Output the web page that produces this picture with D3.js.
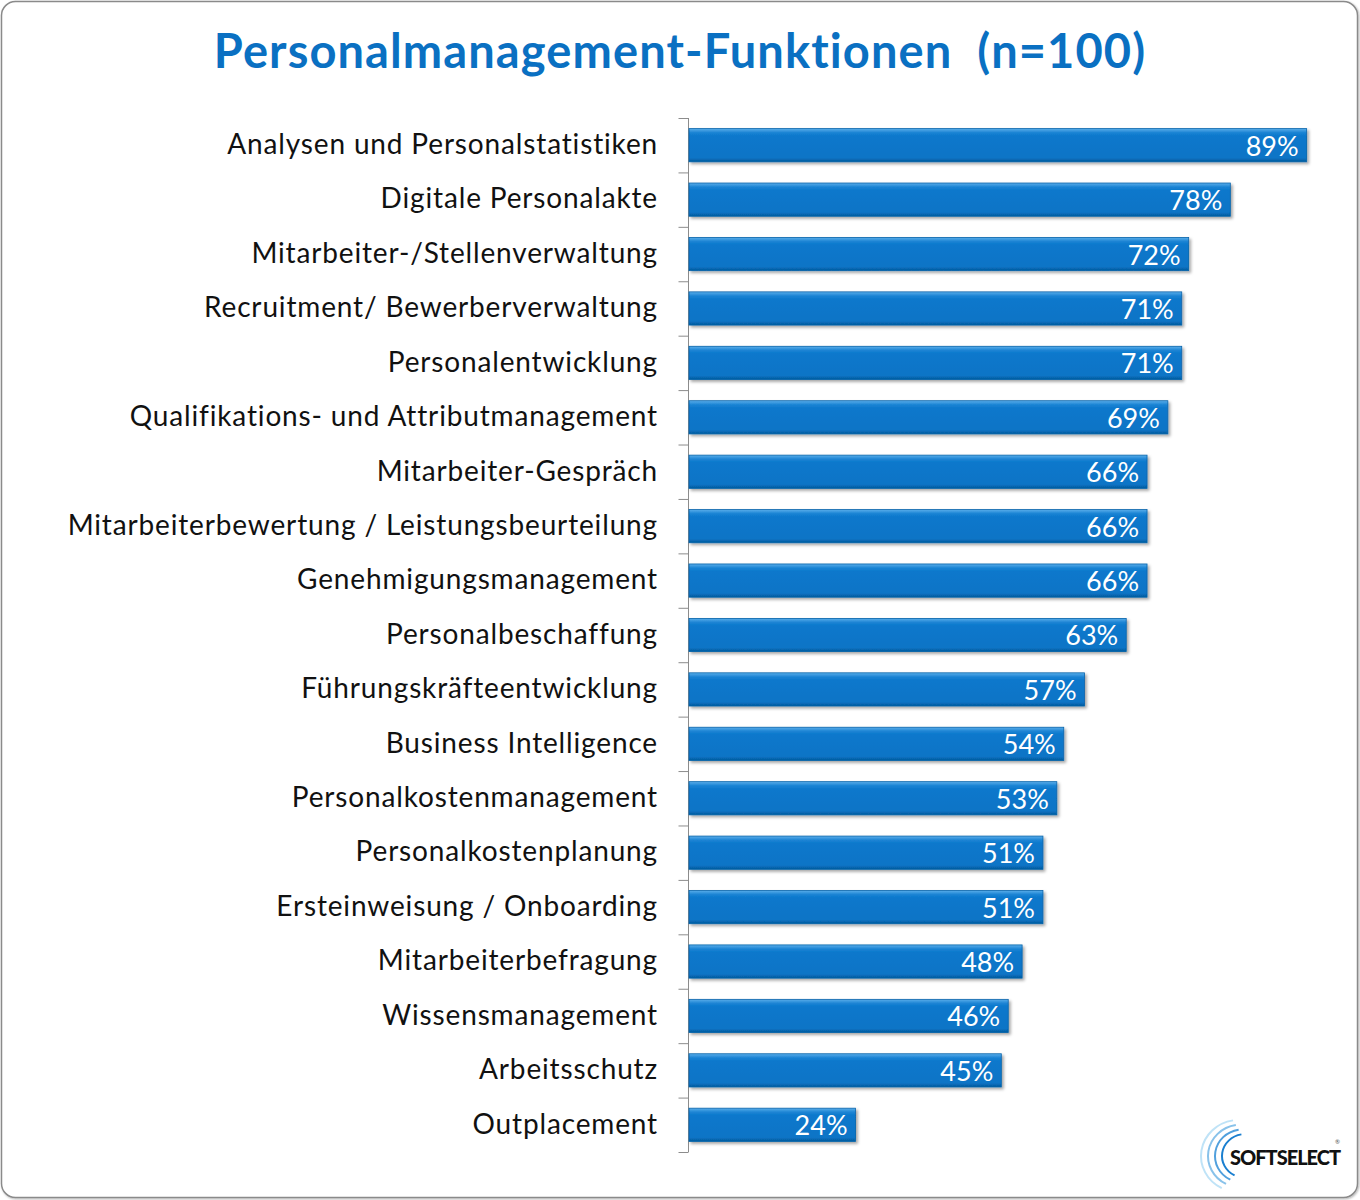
<!DOCTYPE html>
<html>
<head>
<meta charset="utf-8">
<script src="https://cdn.jsdelivr.net/npm/d3@7"></script>
<style>
  body { margin: 0; background: #fff; }
  text { font-family: Lato, "Open Sans", sans-serif; }
</style>
</head>
<body>
<script>
let width, height, svg, xScale, yScale, yAxis, defs;
width = 1360;
height = 1200;

const title = 'Personalmanagement-Funktionen  (n=100)';
const categories = [
  'Analysen und Personalstatistiken',
  'Digitale Personalakte',
  'Mitarbeiter-/Stellenverwaltung',
  'Recruitment/ Bewerberverwaltung',
  'Personalentwicklung',
  'Qualifikations- und Attributmanagement',
  'Mitarbeiter-Gespräch',
  'Mitarbeiterbewertung / Leistungsbeurteilung',
  'Genehmigungsmanagement',
  'Personalbeschaffung',
  'Führungskräfteentwicklung',
  'Business Intelligence',
  'Personalkostenmanagement',
  'Personalkostenplanung',
  'Ersteinweisung / Onboarding',
  'Mitarbeiterbefragung',
  'Wissensmanagement',
  'Arbeitsschutz',
  'Outplacement'
];
const values = [89, 78, 72, 71, 71, 69, 66, 66, 66, 63, 57, 54, 53, 51, 51, 48, 46, 45, 24];

svg = d3.select('body')
  .append('svg')
  .attr('width', width)
  .attr('height', height);

defs = svg.append('defs');
let grad = defs.append('linearGradient')
  .attr('id', 'barGrad')
  .attr('x1', 0).attr('y1', 0).attr('x2', 0).attr('y2', 1);
grad.append('stop').attr('offset', '0%').attr('stop-color', '#5aaeea');
grad.append('stop').attr('offset', '12%').attr('stop-color', '#1c84d4');
grad.append('stop').attr('offset', '22%').attr('stop-color', '#0a78cc');
grad.append('stop').attr('offset', '88%').attr('stop-color', '#0874c6');
grad.append('stop').attr('offset', '100%').attr('stop-color', '#055a9c');

let shadow = defs.append('filter').attr('id', 'shadow')
  .attr('x', '-5%').attr('y', '-20%').attr('width', '115%').attr('height', '160%');
shadow.append('feDropShadow')
  .attr('dx', 2).attr('dy', 2).attr('stdDeviation', 1.5)
  .attr('flood-color', '#000').attr('flood-opacity', 0.35);

let frameShadow = defs.append('filter').attr('id', 'frameShadow');
frameShadow.append('feDropShadow')
  .attr('dx', 1).attr('dy', 1).attr('stdDeviation', 1)
  .attr('flood-color', '#000').attr('flood-opacity', 0.3);

// frame
svg.append('rect')
  .attr('x', 1.5).attr('y', 1.5)
  .attr('width', width - 4).attr('height', height - 4)
  .attr('rx', 14).attr('ry', 14)
  .attr('fill', '#fff')
  .attr('stroke', '#8a8a8a')
  .attr('stroke-width', 1.5)
  .attr('filter', 'url(#frameShadow)');

// title
svg.append('text')
  .attr('x', 680).attr('y', 68)
  .attr('text-anchor', 'middle')
  .attr('fill', '#0a70c2')
  .style('font-size', '47px')
  .style('font-weight', 'bold')
  .style('letter-spacing', '1.1px')
  .style('white-space', 'pre')
  .text(title);

xScale = d3.scaleLinear()
  .domain([0, 100])
  .range([689, 1383]);

yScale = d3.scaleBand()
  .domain(categories)
  .range([118, 1152])
  .paddingInner(0.39)
  .paddingOuter(0.195);

// axis with ticks between categories
let axisScale = d3.scaleLinear().domain([0, categories.length]).range([118, 1152]);
yAxis = d3.axisLeft(axisScale)
  .tickValues(d3.range(categories.length + 1))
  .tickSize(10)
  .tickFormat('');
svg.append('g')
  .attr('id', 'y-axis')
  .attr('transform', 'translate(688.5,0)')
  .call(yAxis)
  .call(g => g.select('.domain').attr('stroke', '#8c8c8c').attr('d', 'M0,118V1152'))
  .call(g => g.selectAll('.tick line').attr('stroke', '#8c8c8c'));

// category labels
svg.selectAll('.cat-label')
  .data(categories)
  .enter()
  .append('text')
  .attr('class', 'cat-label')
  .attr('x', 658)
  .attr('y', d => yScale(d) + yScale.bandwidth() / 2 - 1)
  .attr('dy', '0.35em')
  .attr('text-anchor', 'end')
  .attr('fill', '#111')
  .style('font-size', '28px')
  .style('letter-spacing', '0.85px')
  .text(d => d);

// bars
svg.selectAll('.bar')
  .data(values)
  .enter()
  .append('rect')
  .attr('class', 'bar')
  .attr('x', xScale(0))
  .attr('y', (d, i) => yScale(categories[i]))
  .attr('width', d => xScale(d) - xScale(0))
  .attr('height', yScale.bandwidth())
  .attr('fill', 'url(#barGrad)')
  .attr('stroke', '#0863aa')
  .attr('stroke-width', 0.8)
  .attr('filter', 'url(#shadow)');

// value labels
svg.selectAll('.val-label')
  .data(values)
  .enter()
  .append('text')
  .attr('class', 'val-label')
  .attr('x', d => xScale(d) - 8)
  .attr('y', (d, i) => yScale(categories[i]) + yScale.bandwidth() / 2 + 1)
  .attr('dy', '0.35em')
  .attr('text-anchor', 'end')
  .attr('fill', '#fff')
  .style('font-size', '27px')
  .text(d => d + '%');

// logo
let logo = svg.append('g').attr('transform', 'translate(1205,1128)');
[0, 1, 2, 3].forEach(i => {
  logo.append('path')
    .attr('d', d3.arc()({
      innerRadius: 22 + i * 5,
      outerRadius: 24 + i * 5,
      startAngle: Math.PI * 1.15,
      endAngle: Math.PI * 1.95
    }))
    .attr('transform', 'translate(' + (40 - i * 2) + ',28) scale(1,0.95)')
    .attr('fill', d3.interpolateRgb('#1a7fd0', '#bfe3f7')(i / 3));
});
logo.append('text')
  .attr('x', 25).attr('y', 37)
  .attr('fill', '#111')
  .style('font-size', '20px')
  .style('font-weight', '900')
  .style('letter-spacing', '-1px')
  .text('SOFTSELECT');
logo.append('text')
  .attr('x', 130).attr('y', 16)
  .attr('fill', '#555')
  .style('font-size', '6px')
  .text('®');
</script>
</body>
</html>
